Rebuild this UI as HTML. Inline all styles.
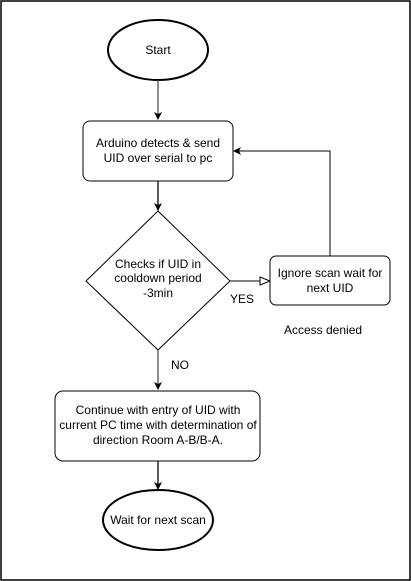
<!DOCTYPE html>
<html><head><style>
html,body{margin:0;padding:0;background:#fff;}
svg{display:block;}
text{font-family:"Liberation Sans",Arial,sans-serif;font-size:12px;fill:#000;}
</style></head><body>
<svg width="411" height="581" viewBox="0 0 411 581" xmlns="http://www.w3.org/2000/svg">
<defs>
<marker id="a" markerWidth="8" markerHeight="8" refX="7" refY="4" orient="auto" markerUnits="userSpaceOnUse">
<path d="M0,0 L8,4 L0,8 L2,4 Z" fill="#000"/>
</marker>
<marker id="o" markerWidth="12" markerHeight="10" refX="11" refY="5" orient="auto" markerUnits="userSpaceOnUse">
<path d="M1,1 L11,5 L1,9 Z" fill="#fff" stroke="#000" stroke-width="1"/>
</marker>
</defs>
<rect x="1" y="1" width="409" height="579" fill="#fff" stroke="#000" stroke-width="1.5"/>
<ellipse cx="158" cy="50" rx="50" ry="30" fill="#fff" stroke="#000" stroke-width="2"/>
<text x="158" y="54" text-anchor="middle">Start</text>
<line x1="158" y1="80" x2="158" y2="119" stroke="#444" stroke-width="1.2" marker-end="url(#a)"/>
<rect x="83" y="121" width="150" height="60" rx="7" fill="#fff" stroke="#000"/>
<text x="158" y="147" text-anchor="middle">Arduino detects &amp; send</text>
<text x="158" y="162" text-anchor="middle">UID over serial to pc</text>
<line x1="158" y1="181" x2="158" y2="210" stroke="#222" stroke-width="1.5" marker-end="url(#a)"/>
<path d="M158,211 L230,281 L158,350 L86,281 Z" fill="#fff" stroke="#000"/>
<text x="158" y="268" text-anchor="middle">Checks if UID in</text>
<text x="158" y="282" text-anchor="middle">cooldown period</text>
<text x="158" y="297" text-anchor="middle">-3min</text>
<line x1="230" y1="281" x2="270" y2="281" stroke="#000" marker-end="url(#o)"/>
<rect x="270" y="256" width="120" height="49" rx="6" fill="#fff" stroke="#000"/>
<text x="330" y="277" text-anchor="middle">Ignore scan wait for</text>
<text x="330" y="292" text-anchor="middle">next UID</text>
<polyline points="330,256 330,151 234,151" fill="none" stroke="#000" marker-end="url(#a)"/>
<text x="230" y="303">YES</text>
<text x="284" y="334" font-size="11">Access denied</text>
<text x="171" y="369">NO</text>
<line x1="158" y1="350" x2="158" y2="389" stroke="#444" stroke-width="1.2" marker-end="url(#a)"/>
<rect x="55" y="391" width="205" height="70" rx="8" fill="#fff" stroke="#000"/>
<text x="158" y="414" text-anchor="middle">Continue with entry of UID with</text>
<text x="158" y="429" text-anchor="middle">current PC time with determination of</text>
<text x="158" y="444" text-anchor="middle">direction Room A-B/B-A.</text>
<line x1="158" y1="461" x2="158" y2="489" stroke="#222" stroke-width="1.5" marker-end="url(#a)"/>
<ellipse cx="158" cy="520" rx="55" ry="30" fill="#fff" stroke="#000" stroke-width="2"/>
<text x="158" y="524" text-anchor="middle">Wait for next scan</text>
</svg>
</body></html>
